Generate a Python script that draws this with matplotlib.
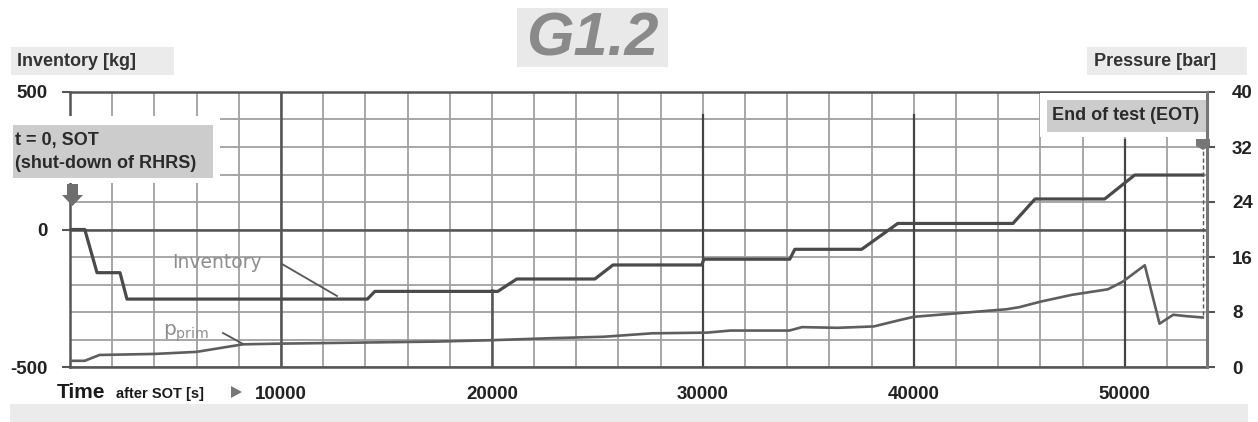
import matplotlib
matplotlib.use("Agg")
import matplotlib.pyplot as plt
from matplotlib.patches import Rectangle, Polygon

plt.rcParams['font.family'] = ['Liberation Sans', 'DejaVu Sans']
plt.rcParams['axes.unicode_minus'] = False

# ---------------- data ----------------
inv_t = [0, 700, 1280, 2370, 2700, 14100, 14450, 20280, 21180, 24880, 25740,
         29950, 30050, 34120, 34360, 37530, 39240, 44700, 45750, 49050, 50470, 53700]
inv_kg = [0, 0, -157, -157, -253, -253, -225, -225, -180, -180, -129,
          -129, -108, -108, -72, -72, 22, 22, 111, 111, 198, 198]

p_t = [0, 700, 1400, 4000, 6000, 7200, 8200, 10000, 12500, 17400,
       20000, 22900, 25300, 27600, 30200, 31300, 34100, 34700, 36400, 38100,
       39300, 40000, 42000, 44400, 45000, 46000, 47500, 49200, 49900, 50950,
       51650, 52300, 52900, 53700]
p_bar = [0.9, 0.9, 1.75, 1.9, 2.2, 2.8, 3.3, 3.4, 3.5, 3.7,
         3.9, 4.2, 4.4, 4.9, 5.0, 5.3, 5.3, 5.8, 5.7, 5.9,
         6.8, 7.3, 7.8, 8.4, 8.7, 9.5, 10.5, 11.3, 12.4, 14.8,
         6.3, 7.6, 7.4, 7.2]

x_ticks = [10000, 20000, 30000, 40000, 50000]
x_ticklabels = ['10000', '20000', '30000', '40000', '50000']
inv_ticks = [-500, 0, 500]
p_ticks = [0, 8, 16, 24, 32, 40]
t_end = 53700

W, H = 1258, 422
fig = plt.figure(figsize=(W / 100, H / 100), dpi=100)
fig.patch.set_facecolor('white')

L, R, T, B = 70, 1207, 92, 367
ax = fig.add_axes([L / W, 1 - B / H, (R - L) / W, (B - T) / H])
ax.set_xlim(0, 53900)
ax.set_ylim(-500, 500)
ax.set_xticks(x_ticks)
ax.set_xticklabels(x_ticklabels)
ax.set_xticks(range(0, 54000, 2000), minor=True)
ax.set_yticks(inv_ticks)
ax.set_yticks(range(-500, 501, 100), minor=True)
ax.grid(True, which='both', color='#a0a0a0', lw=1.3, zorder=0)
ax.set_axisbelow(True)
ax.tick_params(axis='x', which='both', length=0, pad=14, labelsize=13.5,
               labelcolor='#222222')
ax.tick_params(axis='y', which='major', length=6, width=1.5, color='#555555',
               pad=10, labelsize=13.5, labelcolor='#222222')
ax.tick_params(axis='y', which='minor', length=0)
for lab in ax.get_xticklabels() + ax.get_yticklabels():
    lab.set_fontweight('bold')
for s in ['left', 'bottom', 'top']:
    ax.spines[s].set_color('#555555')
    ax.spines[s].set_linewidth(1.8)
ax.spines['right'].set_visible(False)

# darker major lines
ax.axhline(0, color='#555555', lw=1.8, zorder=1)
ax.axvline(10000, color='#555555', lw=1.8, zorder=1)
ax.axvline(20000, ymin=0, ymax=0.28, color='#555555', lw=1.8, zorder=1)
ax.axvline(30000, ymin=0, ymax=0.915, color='#444444', lw=1.6, zorder=1)
ax.axvline(40000, ymin=0, ymax=0.915, color='#444444', lw=1.6, zorder=1)
ax.axvline(50000, ymin=0, ymax=0.825, color='#444444', lw=1.6, zorder=1)

ax.plot(inv_t, inv_kg, color='#4a4a4a', lw=2.3, zorder=5, solid_joinstyle='round')

ax2 = ax.twinx()
ax2.set_ylim(0, 40)
ax2.set_yticks(p_ticks)
ax2.tick_params(axis='y', length=6, width=1.5, color='#555555', pad=12,
                labelsize=13.5, labelcolor='#222222')
for lab in ax2.get_yticklabels():
    lab.set_fontweight('bold')
for s in ['left', 'bottom', 'top']:
    ax2.spines[s].set_visible(False)
ax2.spines['right'].set_color('#777777')
ax2.spines['right'].set_linewidth(2.2)
ax2.plot(p_t, p_bar, color='#5e5e5e', lw=1.9, zorder=5)
ax2.plot([t_end, t_end], [7.6, 31.5], color='#555555', lw=1.0, ls=(0, (3, 2)), zorder=4)

# ---------------- overlay in pixel coordinates ----------------
ov = fig.add_axes([0, 0, 1, 1], zorder=10)
ov.set_xlim(0, W)
ov.set_ylim(H, 0)
ov.axis('off')
ov.patch.set_alpha(0)

# title
ov.add_patch(Rectangle((517, 8), 151, 59, color='#e9e9e9', lw=0))
ov.text(592, 40, 'G1.2', fontsize=44, fontweight='bold', fontstyle='italic',
        color='#8a8a8a', ha='center', va='center')

# axis titles
ov.add_patch(Rectangle((11, 47), 163, 28, color='#ebebeb', lw=0))
ov.text(17, 61, 'Inventory [kg]', fontsize=13, fontweight='bold',
        color='#333333', ha='left', va='center')
ov.add_patch(Rectangle((1087, 47), 160, 28, color='#ebebeb', lw=0))
ov.text(1094, 61, 'Pressure [bar]', fontsize=13, fontweight='bold',
        color='#333333', ha='left', va='center')

# SOT box and arrow
ov.add_patch(Rectangle((58, 116), 162, 67, color='white', lw=0))
ov.add_patch(Rectangle((13, 125), 200, 53, color='#cccccc', lw=0))
ov.text(15, 141, 't = 0, SOT', fontsize=13, fontweight='bold', color='#2a2a2a',
        ha='left', va='center')
ov.text(15, 164, '(shut-down of RHRS)', fontsize=13, fontweight='bold',
        color='#2a2a2a', ha='left', va='center')
ov.add_patch(Polygon([(67, 184), (78, 184), (78, 195), (83, 195), (72.5, 206),
                      (62, 195), (67, 195)], closed=True, color='#6e6e6e', lw=0))

# EOT box and marker
ov.add_patch(Rectangle((1040, 93), 166, 44, color='white', lw=0))
ov.add_patch(Rectangle((1047, 100), 159, 32, color='#cccccc', lw=0))
ov.text(1126, 116, 'End of test (EOT)', fontsize=13, fontweight='bold',
        color='#2a2a2a', ha='center', va='center')
ov.add_patch(Polygon([(1196, 139), (1210, 139), (1210, 146), (1203, 150),
                      (1196, 146)], closed=True, color='#777777', lw=0))

# series labels with leader lines
ov.text(217, 262, 'Inventory', fontsize=13.5, color='#8e8e8e', ha='center',
        va='center', family='DejaVu Sans')
ov.plot([282, 337], [264, 296], color='#555555', lw=1.3)
ov.text(163, 333, r'$\mathregular{p_{prim}}$', fontsize=14.5, color='#8e8e8e',
        ha='left', va='center', family='DejaVu Sans')
ov.plot([223, 243], [333, 344], color='#555555', lw=1.3)

# x axis label
ov.text(57, 392, 'Time', fontsize=15, fontweight='bold', color='#1a1a1a',
        ha='left', va='center')
ov.text(116, 394, 'after SOT [s]', fontsize=10.5, fontweight='bold',
        color='#1a1a1a', ha='left', va='center')
ov.add_patch(Polygon([(231, 386), (231, 398), (242, 392)], closed=True,
                     color='#777777', lw=0))

# bottom band
ov.add_patch(Rectangle((10, 404), 1238, 18, color='#ebebeb', lw=0))

fig.savefig('out.png', dpi=100)
